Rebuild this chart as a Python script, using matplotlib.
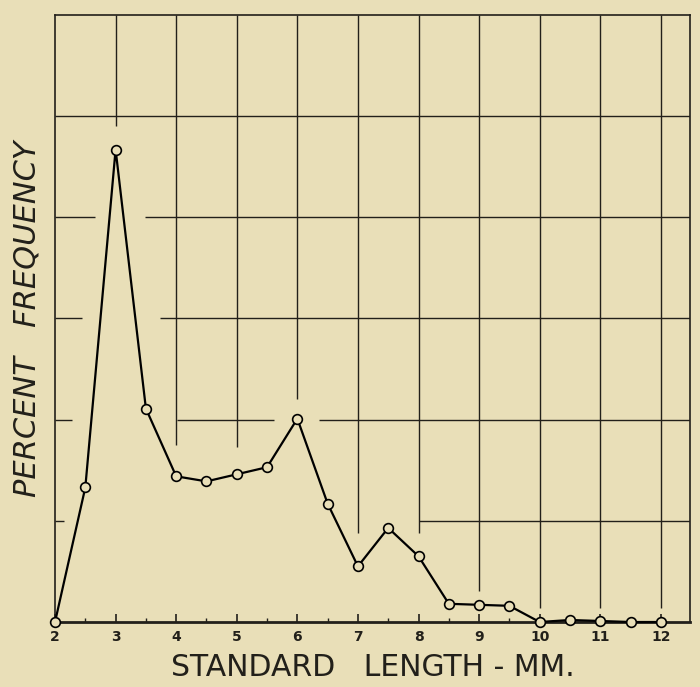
import matplotlib
matplotlib.use("Agg")
import matplotlib.pyplot as plt

# standard length (mm) and percent frequency (grid units, 1 unit per grid row)
lengths = [2, 2.5, 3, 3.5, 4, 4.5, 5, 5.5, 6, 6.5, 7, 7.5, 8, 8.5, 9, 9.5, 10, 10.5, 11, 11.5, 12]
freq = [0.0, 1.33, 4.67, 2.11, 1.44, 1.39, 1.46, 1.53, 2.01, 1.17, 0.55, 0.93, 0.65,
        0.18, 0.17, 0.16, 0.0, 0.02, 0.01, 0.0, 0.0]
xticks = [2, 3, 4, 5, 6, 7, 8, 9, 10, 11, 12]

# hand-drawn grid: vertical lines run from the top down to these levels
vgrid_x = [3, 4, 5, 6, 7, 8, 9, 10, 11, 12]
vgrid_bottom = [4.9, 1.75, 1.73, 2.2, 0.88, 0.88, 0.31, 0.14, 0.14, 0.14]
# horizontal lines: (level, [(x start, x end), ...])
hgrid = [
    (5.0, [(2, 12.48)]),
    (4.0, [(2, 2.66), (3.49, 12.48)]),
    (3.0, [(2, 2.45), (3.73, 12.48)]),
    (2.0, [(2, 2.28), (4.01, 5.61), (6.36, 12.48)]),
    (1.0, [(2, 2.15), (8.0, 12.48)]),
]

BG = "#e9dfb8"
INK = "#22201a"

fig = plt.figure(figsize=(7.0, 6.87), dpi=100, facecolor=BG)
ax = fig.add_axes([0.0786, 0.0946, 0.907, 0.8836])
ax.set_facecolor(BG)
ax.set_xlim(2, 12.48)
ax.set_ylim(0, 6.0)

for x, yb in zip(vgrid_x, vgrid_bottom):
    ax.vlines(x, yb, 6.0, color=INK, lw=1.0, zorder=1)
for level, segs in hgrid:
    for x0, x1 in segs:
        ax.hlines(level, x0, x1, color=INK, lw=1.0, zorder=1)

ax.plot(lengths, freq, color="black", lw=1.6, marker="o", markersize=7,
        markerfacecolor=BG, markeredgecolor="black", markeredgewidth=1.2,
        zorder=3, clip_on=False)

for side in ["left", "top", "right"]:
    ax.spines[side].set_color(INK)
    ax.spines[side].set_linewidth(1.2)
ax.spines["bottom"].set_color(INK)
ax.spines["bottom"].set_linewidth(2.0)

ax.set_xticks(xticks)
ax.set_xticklabels([str(t) for t in xticks], fontsize=10, fontweight="bold", color=INK)
ax.set_xticks([t + 0.5 for t in xticks[:-1]], minor=True)
ax.tick_params(axis="x", which="major", direction="in", length=6, width=1.2, color=INK, pad=6)
ax.tick_params(axis="x", which="minor", direction="in", length=3, width=1.0, color=INK)
ax.set_yticks([])

ax.set_xlabel("STANDARD   LENGTH - MM.", fontsize=21.5, color=INK, labelpad=6)
ax.set_ylabel("PERCENT   FREQUENCY", fontsize=22, fontstyle="italic", color=INK, labelpad=10)

fig.savefig("out.png", dpi=100, facecolor=BG)
